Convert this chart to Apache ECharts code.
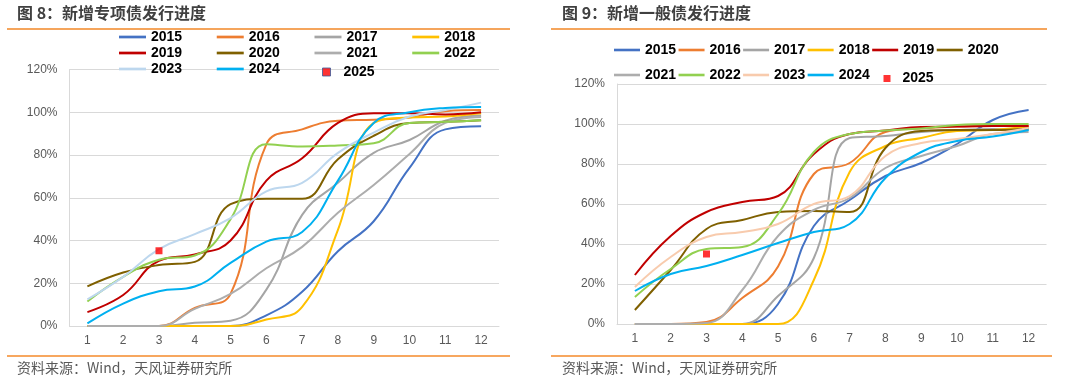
<!DOCTYPE html>
<html>
<head>
<meta charset="utf-8">
<script src="https://cdn.jsdelivr.net/npm/echarts@6/dist/echarts.min.js"></script>
<style>
html,body{margin:0;padding:0;background:#fff;}
#c{width:1080px;height:382px;}
</style>
</head>
<body>
<div id="c"></div>
<script>
// ---------- data ----------
const months = ['1','2','3','4','5','6','7','8','9','10','11','12'];
const yTicks = [0, 20, 40, 60, 80, 100, 120];
const years = ['2015','2016','2017','2018','2019','2020','2021','2022','2023','2024'];

// 图8 新增专项债发行进度 (%)
const sp2015 = [0, 0, 0, 0, 0, 5, 16, 35, 49, 74, 92, 93.5];
const sp2016 = [0, 0, 0, 8.5, 15, 85, 92, 96, 96.5, 97.5, 100.5, 101];
const sp2017 = [0, 0, 0, 1.5, 2.5, 17, 52, 67, 81, 87, 96, 98.5];
const sp2018 = [0, 0, 0, 0, 0, 3, 9, 45, 95, 97.5, 98, 99.5];
const sp2019 = [6.5, 14.5, 30.5, 33.5, 40, 68, 78.5, 95, 99.5, 99.5, 99, 100];
const sp2020 = [18.5, 25, 28.5, 30, 57, 59.5, 59.5, 78, 89, 95, 95.5, 96.3];
const sp2021 = [0, 0, 0, 8, 15, 27, 37, 53, 66, 80.5, 95, 97.8];
const sp2022 = [11.5, 23, 31, 33, 50, 85, 84, 84.5, 85.5, 95, 95.5, 96.3];
const sp2023 = [12.5, 23, 36, 43, 50.5, 63, 67, 81, 90.5, 98, 101, 104.5];
const sp2024 = [1.2, 10.5, 16.3, 18.5, 29.5, 39.5, 44, 68, 95, 100, 102, 102.5];
const sp2025 = [null, null, 35.2, null, null, null, null, null, null, null, null, null];

// 图9 新增一般债发行进度 (%)
const ge2015 = [0, 0, 0, 0, 10, 49, 62, 74, 80.5, 90, 102, 107];
const ge2016 = [0, 0, 1, 13, 28.7, 75, 80.5, 96, 97.8, 98.7, 99, 99];
const ge2017 = [0, 0, 0, 0, 14, 33, 93, 94, 96, 97, 97.5, 97];
const ge2018 = [0, 0, 0, 0, 0, 22, 76, 89, 93, 96.5, 97, 98.7];
const ge2019 = [24.5, 44, 56, 61, 64, 85, 95, 96.7, 98.5, 98.7, 99, 99];
const ge2020 = [7, 27, 47.5, 52, 56, 56.5, 56, 88, 96.5, 97, 97, 97.8];
const ge2021 = [0, 0, 0.5, 17, 44, 57, 63, 78, 84, 89, 95, 96];
const ge2022 = [13.5, 27.5, 37.5, 38.5, 55, 86, 95, 96.7, 97.8, 99.5, 100, 100];
const ge2023 = [18.5, 33.5, 43.5, 46, 50, 60, 64, 84, 90.5, 92.5, 95, 98];
const ge2024 = [16.5, 25, 29, 34.5, 40.5, 46, 50, 73, 86, 91.5, 93.7, 97];
const ge2025 = [null, null, 35, null, null, null, null, null, null, null, null, null];

// ---------- styles ----------
const leftColors = ['#4472C4','#ED7D31','#A5A5A5','#FFC000','#C00000','#7F6000','#ADADAD','#92D050','#BDD7EE','#00B0F0'];
const rightColors = ['#4472C4','#ED7D31','#A5A5A5','#FFC000','#C00000','#7F6000','#ADADAD','#92D050','#F8CBAD','#00B0F0'];
const spData = [sp2015, sp2016, sp2017, sp2018, sp2019, sp2020, sp2021, sp2022, sp2023, sp2024];
const geData = [ge2015, ge2016, ge2017, ge2018, ge2019, ge2020, ge2021, ge2022, ge2023, ge2024];

const lineIcon = 'path://M0,0L40,0L40,4L0,4Z';
const legendText = {fontFamily: 'Liberation Sans', fontWeight: 'bold', fontSize: 14, color: '#000'};

function mkLine(name, data, color, idx) {
  return {
    type: 'line', name: name, data: data,
    xAxisIndex: idx, yAxisIndex: idx,
    smooth: 0.45, symbol: 'none', showSymbol: false,
    lineStyle: {width: 2, color: color},
    itemStyle: {color: color},
    emphasis: {disabled: true},
    z: 2
  };
}

const series = [];
years.forEach((y, i) => series.push(mkLine('s' + y, spData[i], leftColors[i], 0)));
years.forEach((y, i) => series.push(mkLine('g' + y, geData[i], rightColors[i], 1)));
series.push({type: 'scatter', name: 's2025', data: sp2025, xAxisIndex: 0, yAxisIndex: 0,
  symbol: 'rect', symbolSize: 7, itemStyle: {color: '#FF0000'}, z: 5});
series.push({type: 'scatter', name: 'g2025', data: ge2025, xAxisIndex: 1, yAxisIndex: 1,
  symbol: 'rect', symbolSize: 7, itemStyle: {color: '#FF0000'}, z: 5});

function lineLegend(names, left, top, itemWidth, itemGap) {
  return {
    left: left, top: top, orient: 'horizontal',
    itemWidth: itemWidth, itemHeight: 14, itemGap: itemGap,
    selectedMode: false, symbolKeepAspect: true,
    formatter: n => n.slice(1),
    textStyle: legendText, padding: 0,
    data: names.map(n => ({name: n, icon: lineIcon}))
  };
}

function axisPair(idx) {
  return {
    x: {
      type: 'category', data: months, gridIndex: idx, boundaryGap: true,
      axisTick: {show: false},
      axisLine: {show: true, lineStyle: {color: '#D9D9D9', width: 1}},
      axisLabel: {color: '#595959', fontSize: 12, fontFamily: 'Liberation Sans', margin: 9}
    },
    y: {
      type: 'value', gridIndex: idx, min: yTicks[0], max: yTicks[yTicks.length - 1], interval: 20,
      axisTick: {show: false},
      axisLine: {show: true, lineStyle: {color: '#D9D9D9', width: 1}},
      splitLine: {show: true, lineStyle: {color: '#D9D9D9', width: 1}},
      axisLabel: {color: '#595959', fontSize: 12, fontFamily: 'Liberation Sans', margin: 12, formatter: '{value}%'}
    }
  };
}
const a0 = axisPair(0), a1 = axisPair(1);

const titleFont = {fontFamily: 'Noto Sans CJK SC', fontSize: 16, fontWeight: 'bold', color: '#404040'};
const srcFont = 'normal 14px "Noto Sans CJK SC"';

const option = {
  animation: false,
  backgroundColor: '#fff',
  title: [
    {text: '图 8：新增专项债发行进度', left: 17, top: 5, padding: 0, textStyle: titleFont},
    {text: '图 9：新增一般债发行进度', left: 562, top: 5, padding: 0, textStyle: titleFont}
  ],
  grid: [
    {left: 69.5, width: 429.5, top: 69.5, height: 256.5, containLabel: false},
    {left: 617, width: 429.5, top: 84, height: 240, containLabel: false}
  ],
  xAxis: [a0.x, a1.x],
  yAxis: [a0.y, a1.y],
  legend: [
    lineLegend(['s2015','s2016','s2017','s2018'], 119, 30, 27, 34.6),
    lineLegend(['s2019','s2020','s2021','s2022'], 119, 46, 27, 34.6),
    lineLegend(['s2023','s2024'], 119, 62, 27, 34.6),
    {left: 322, top: 65, itemWidth: 8, itemHeight: 8, selectedMode: false, padding: 0,
      formatter: n => n.slice(1),
      textStyle: Object.assign({}, legendText, {padding: [0, 0, 0, 8]}),
      data: [{name: 's2025', icon: 'rect', itemStyle: {color: '#FF0000', borderColor: '#3B5A9A', borderWidth: 1}}]},
    lineLegend(['g2015','g2016','g2017','g2018','g2019','g2020'], 614, 43, 26, 2.4),
    lineLegend(['g2021','g2022','g2023','g2024'], 614, 68, 26, 2.4),
    {left: 883.5, top: 71.5, itemWidth: 7, itemHeight: 7, selectedMode: false, padding: 0,
      formatter: n => n.slice(1),
      textStyle: Object.assign({}, legendText, {padding: [0, 0, 0, 7]}),
      data: [{name: 'g2025', icon: 'rect'}]}
  ],
  graphic: [
    {type: 'line', shape: {x1: 7, y1: 29, x2: 510, y2: 29}, style: {stroke: '#F5A55C', lineWidth: 2}, silent: true},
    {type: 'line', shape: {x1: 551, y1: 29, x2: 1047, y2: 29}, style: {stroke: '#F5A55C', lineWidth: 2}, silent: true},
    {type: 'line', shape: {x1: 7, y1: 356, x2: 510, y2: 356}, style: {stroke: '#F58A2A', lineWidth: 1.5}, silent: true},
    {type: 'line', shape: {x1: 551, y1: 356, x2: 1052, y2: 356}, style: {stroke: '#F58A2A', lineWidth: 1.5}, silent: true},
    {type: 'text', left: 17, top: 361, silent: true,
      style: {text: '资料来源：Wind，天风证券研究所', font: srcFont, fill: '#595959'}},
    {type: 'text', left: 562, top: 361, silent: true,
      style: {text: '资料来源：Wind，天风证券研究所', font: srcFont, fill: '#595959'}}
  ],
  series: series
};

const chart = echarts.init(document.getElementById('c'), null, {renderer: 'canvas'});
chart.setOption(option);
</script>
</body>
</html>
